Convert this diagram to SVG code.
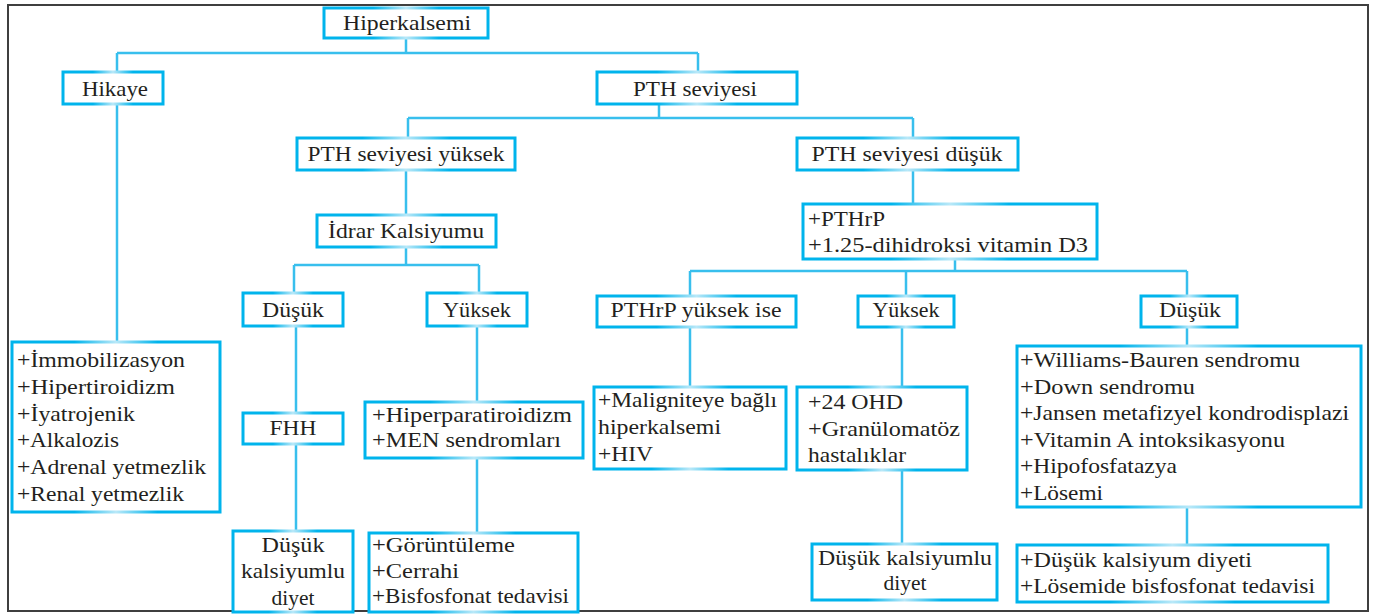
<svg xmlns="http://www.w3.org/2000/svg" width="1375" height="615" viewBox="0 0 1375 615">
<defs>
<linearGradient id="bg" x1="0" y1="0" x2="1" y2="0">
<stop offset="0" stop-color="#00b4ec"/>
<stop offset="0.3" stop-color="#00b4ec"/>
<stop offset="0.5" stop-color="#b9e8f8"/>
<stop offset="0.7" stop-color="#00b4ec"/>
<stop offset="1" stop-color="#00b4ec"/>
</linearGradient>
<style>
.b{fill:#fff;stroke:url(#bg);stroke-width:3}
.c{fill:none;stroke:#38bfed;stroke-width:2.5}
text{font-size:21px;fill:#231f20}
.m{text-anchor:middle}
</style>
</defs>
<rect x="0" y="0" width="1375" height="615" fill="#fff"/>
<rect x="8" y="5" width="1360" height="606" fill="none" stroke="#3f3f3f" stroke-width="2"/>
<g id="connectors">
<path class="c" d="M406 38V53M117 53H698M117 53V72M698 53V72"/>
<path class="c" d="M117 104V342"/>
<path class="c" d="M659 104V118M408 118H913M408 118V138M913 118V138"/>
<path class="c" d="M406 170V215"/>
<path class="c" d="M913 170V204"/>
<path class="c" d="M406 247V265M294 265H479M294 265V293M479 265V293"/>
<path class="c" d="M296 326V413M296 444V531"/>
<path class="c" d="M477 326V402M477 458V533"/>
<path class="c" d="M955 259V271M690 271H1187M690 271V296M906 271V296M1187 271V296"/>
<path class="c" d="M690 327V387"/>
<path class="c" d="M902 327V387M902 470V544"/>
<path class="c" d="M1187 327V346M1187 507V545"/>
</g>
<g id="nodes" font-family="Liberation Serif, Times New Roman, Times, serif">
<g id="n-hiperkalsemi"><rect class="b" x="324" y="8" width="164" height="30"/><text class="m" x="407" y="30" textLength="128" lengthAdjust="spacingAndGlyphs">Hiperkalsemi</text></g>
<g id="n-hikaye"><rect class="b" x="63" y="72" width="100" height="32"/><text class="m" x="115" y="96" textLength="66" lengthAdjust="spacingAndGlyphs">Hikaye</text></g>
<g id="n-pth"><rect class="b" x="597" y="72" width="200" height="32"/><text class="m" x="695" y="96" textLength="124" lengthAdjust="spacingAndGlyphs">PTH seviyesi</text></g>
<g id="n-pth-yuksek"><rect class="b" x="297" y="138" width="218" height="32"/><text class="m" x="406" y="161" textLength="197" lengthAdjust="spacingAndGlyphs">PTH seviyesi yüksek</text></g>
<g id="n-pth-dusuk"><rect class="b" x="797" y="138" width="221" height="32"/><text class="m" x="907" y="161" textLength="191" lengthAdjust="spacingAndGlyphs">PTH seviyesi düşük</text></g>
<g id="n-idrar"><rect class="b" x="317" y="215" width="179" height="32"/><text class="m" x="406" y="238" textLength="156" lengthAdjust="spacingAndGlyphs">İdrar Kalsiyumu</text></g>
<g id="n-pthrp"><rect class="b" x="803" y="204" width="294" height="55"/><text x="808" y="226" textLength="77" lengthAdjust="spacingAndGlyphs">+PTHrP</text><text x="808" y="252" textLength="280" lengthAdjust="spacingAndGlyphs">+1.25-dihidroksi vitamin D3</text></g>
<g id="n-dusuk1"><rect class="b" x="243" y="293" width="100" height="33"/><text class="m" x="293" y="317" textLength="62" lengthAdjust="spacingAndGlyphs">Düşük</text></g>
<g id="n-yuksek1"><rect class="b" x="427" y="293" width="100" height="33"/><text class="m" x="477" y="317" textLength="68" lengthAdjust="spacingAndGlyphs">Yüksek</text></g>
<g id="n-pthrp-yuksek"><rect class="b" x="597" y="296" width="199" height="31"/><text class="m" x="696" y="317" textLength="171" lengthAdjust="spacingAndGlyphs">PTHrP yüksek ise</text></g>
<g id="n-yuksek2"><rect class="b" x="858" y="296" width="96" height="31"/><text class="m" x="906" y="317" textLength="67" lengthAdjust="spacingAndGlyphs">Yüksek</text></g>
<g id="n-dusuk2"><rect class="b" x="1141" y="296" width="96" height="31"/><text class="m" x="1190" y="317" textLength="62" lengthAdjust="spacingAndGlyphs">Düşük</text></g>
<g id="n-hikaye-list"><rect class="b" x="12" y="342" width="208" height="170"/>
<text x="17" y="367" textLength="168" lengthAdjust="spacingAndGlyphs">+İmmobilizasyon</text>
<text x="17" y="394" textLength="158" lengthAdjust="spacingAndGlyphs">+Hipertiroidizm</text>
<text x="17" y="421" textLength="118" lengthAdjust="spacingAndGlyphs">+İyatrojenik</text>
<text x="17" y="447" textLength="102" lengthAdjust="spacingAndGlyphs">+Alkalozis</text>
<text x="17" y="474" textLength="189" lengthAdjust="spacingAndGlyphs">+Adrenal yetmezlik</text>
<text x="17" y="501" textLength="167" lengthAdjust="spacingAndGlyphs">+Renal yetmezlik</text></g>
<g id="n-fhh"><rect class="b" x="243" y="413" width="100" height="31"/><text class="m" x="293" y="435" textLength="47" lengthAdjust="spacingAndGlyphs">FHH</text></g>
<g id="n-hiperpara"><rect class="b" x="365" y="402" width="218" height="56"/>
<text x="372" y="422" textLength="200" lengthAdjust="spacingAndGlyphs">+Hiperparatiroidizm</text>
<text x="372" y="447" textLength="189" lengthAdjust="spacingAndGlyphs">+MEN sendromları</text></g>
<g id="n-malign"><rect class="b" x="594" y="387" width="192" height="82"/>
<text x="598" y="407" textLength="179" lengthAdjust="spacingAndGlyphs">+Maligniteye bağlı</text>
<text x="598" y="434" textLength="123" lengthAdjust="spacingAndGlyphs">hiperkalsemi</text>
<text x="598" y="461" textLength="55" lengthAdjust="spacingAndGlyphs">+HIV</text></g>
<g id="n-ohd"><rect class="b" x="797" y="387" width="170" height="83"/>
<text x="808" y="409" textLength="95" lengthAdjust="spacingAndGlyphs">+24 OHD</text>
<text x="808" y="436" textLength="152" lengthAdjust="spacingAndGlyphs">+Granülomatöz</text>
<text x="808" y="462" textLength="98" lengthAdjust="spacingAndGlyphs">hastalıklar</text></g>
<g id="n-williams"><rect class="b" x="1017" y="346" width="344" height="161"/>
<text x="1020" y="367" textLength="280" lengthAdjust="spacingAndGlyphs">+Williams-Bauren sendromu</text>
<text x="1020" y="394" textLength="175" lengthAdjust="spacingAndGlyphs">+Down sendromu</text>
<text x="1020" y="420" textLength="329" lengthAdjust="spacingAndGlyphs">+Jansen metafizyel kondrodisplazi</text>
<text x="1020" y="447" textLength="265" lengthAdjust="spacingAndGlyphs">+Vitamin A intoksikasyonu</text>
<text x="1020" y="473" textLength="157" lengthAdjust="spacingAndGlyphs">+Hipofosfatazya</text>
<text x="1020" y="500" textLength="83" lengthAdjust="spacingAndGlyphs">+Lösemi</text></g>
<g id="n-diyet1"><rect class="b" x="233" y="531" width="120" height="81"/>
<text class="m" x="293" y="552" textLength="63" lengthAdjust="spacingAndGlyphs">Düşük</text>
<text class="m" x="293" y="578" textLength="104" lengthAdjust="spacingAndGlyphs">kalsiyumlu</text>
<text class="m" x="293" y="605" textLength="43" lengthAdjust="spacingAndGlyphs">diyet</text></g>
<g id="n-goruntuleme"><rect class="b" x="369" y="533" width="209" height="79"/>
<text x="372" y="552" textLength="143" lengthAdjust="spacingAndGlyphs">+Görüntüleme</text>
<text x="372" y="578" textLength="87" lengthAdjust="spacingAndGlyphs">+Cerrahi</text>
<text x="372" y="603" textLength="197" lengthAdjust="spacingAndGlyphs">+Bisfosfonat tedavisi</text></g>
<g id="n-diyet2"><rect class="b" x="812" y="544" width="185" height="56"/>
<text class="m" x="905" y="565" textLength="174" lengthAdjust="spacingAndGlyphs">Düşük kalsiyumlu</text>
<text class="m" x="905" y="590" textLength="43" lengthAdjust="spacingAndGlyphs">diyet</text></g>
<g id="n-diyet3"><rect class="b" x="1017" y="545" width="311" height="57"/>
<text x="1020" y="567" textLength="232" lengthAdjust="spacingAndGlyphs">+Düşük kalsiyum diyeti</text>
<text x="1020" y="593" textLength="295" lengthAdjust="spacingAndGlyphs">+Lösemide bisfosfonat tedavisi</text></g>
</g>
</svg>
